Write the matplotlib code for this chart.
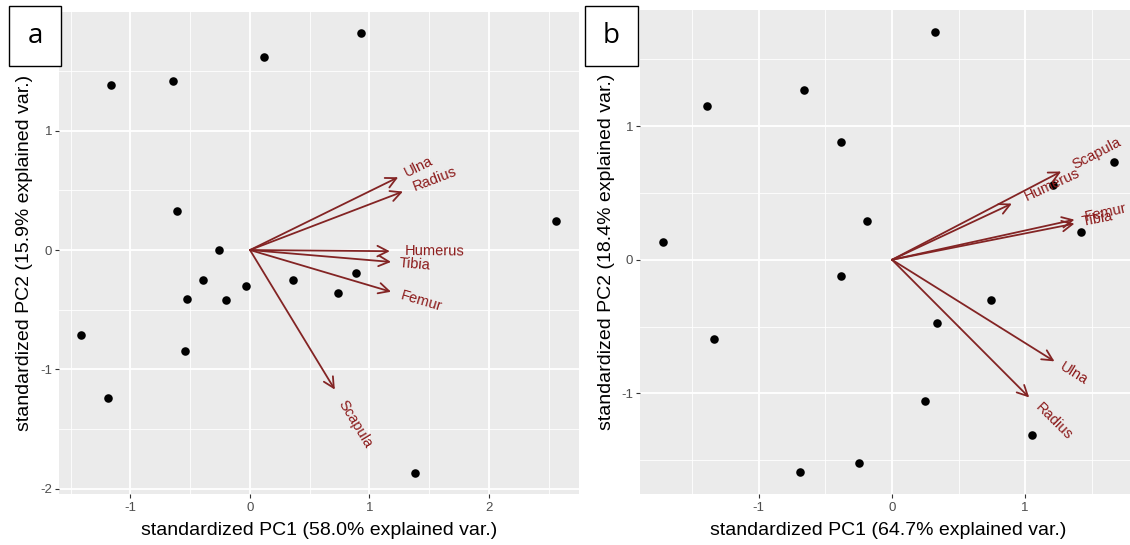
import numpy as np
import matplotlib
matplotlib.use("Agg")
import matplotlib.pyplot as plt
from matplotlib.ticker import MultipleLocator, FormatStrFormatter
from matplotlib.patches import Rectangle

plt.rcParams['font.family'] = ['Liberation Sans', 'DejaVu Sans']
plt.rcParams['axes.unicode_minus'] = False

# ---------------- data ----------------
# Panel a
a_pc1 = [0.93, 0.12, -1.16, -0.64, -0.61, 2.56, -0.26, -0.39, -0.03, 0.36,
         0.89, 0.74, -0.53, -0.20, -1.41, -0.54, -1.19, 1.38]
a_pc2 = [1.82, 1.62, 1.38, 1.42, 0.33, 0.24, 0.00, -0.25, -0.30, -0.25,
         -0.19, -0.36, -0.41, -0.42, -0.71, -0.85, -1.24, -1.87]
a_vars = ['Ulna', 'Radius', 'Humerus', 'Tibia', 'Femur', 'Scapula']
a_load1 = [1.24, 1.28, 1.17, 1.18, 1.18, 0.71]
a_load2 = [0.61, 0.49, -0.01, -0.10, -0.35, -1.17]
a_xlabel = 'standardized PC1 (58.0% explained var.)'
a_ylabel = 'standardized PC2 (15.9% explained var.)'

# Panel b
b_pc1 = [0.32, -0.66, -1.39, -0.38, -0.19, -1.72, 1.67, 1.21, 1.42, -0.38,
         0.74, 0.34, -1.34, 0.25, 1.05, -0.25, -0.69]
b_pc2 = [1.70, 1.27, 1.15, 0.88, 0.29, 0.135, 0.73, 0.56, 0.21, -0.12,
         -0.30, -0.47, -0.59, -1.06, -1.31, -1.52, -1.59]
b_vars = ['Scapula', 'Humerus', 'Femur', 'Tibia', 'Ulna', 'Radius']
b_load1 = [1.27, 0.90, 1.37, 1.37, 1.22, 1.03]
b_load2 = [0.66, 0.42, 0.30, 0.27, -0.76, -1.03]
b_xlabel = 'standardized PC1 (64.7% explained var.)'
b_ylabel = 'standardized PC2 (18.4% explained var.)'

panel_letters = ['a', 'b']

# ---------------- style ----------------
W, H = 1130, 545
DPI = 100
PANEL_BG = '#EBEBEB'
ARROW_C = '#832424'
TEXT_C = '#8B1A1A'
TICK_C = '#4D4D4D'
LABEL_FS = 10.5

fig = plt.figure(figsize=(W / DPI, H / DPI), dpi=DPI)
fig.patch.set_facecolor('white')


def px_axes(l, t, r, b):
    return fig.add_axes([l / W, 1 - b / H, (r - l) / W, (b - t) / H])


def style_axes(ax, xlim, ylim):
    ax.set_facecolor(PANEL_BG)
    ax.set_xlim(*xlim)
    ax.set_ylim(*ylim)
    for s in ax.spines.values():
        s.set_visible(False)
    ax.xaxis.set_major_locator(MultipleLocator(1))
    ax.yaxis.set_major_locator(MultipleLocator(1))
    ax.xaxis.set_minor_locator(MultipleLocator(0.5))
    ax.yaxis.set_minor_locator(MultipleLocator(0.5))
    ax.xaxis.set_major_formatter(FormatStrFormatter('%g'))
    ax.yaxis.set_major_formatter(FormatStrFormatter('%g'))
    ax.grid(which='major', color='white', lw=1.3, zorder=0)
    ax.grid(which='minor', color='white', lw=0.6, zorder=0)
    ax.set_axisbelow(True)
    ax.tick_params(which='major', length=3.2, width=0.8, color='#333333',
                   labelsize=9.5, labelcolor=TICK_C)
    ax.tick_params(axis='x', which='major', pad=2.5)
    ax.tick_params(axis='y', which='major', pad=1.8)
    ax.tick_params(which='minor', length=0)


def draw_panel(ax, pc1, pc2, names, l1, l2, xlabel, ylabel, xlab_pos, ylab_pos):
    ax.scatter(pc1, pc2, s=38, color='black', zorder=3, linewidths=0)
    renderer = fig.canvas.get_renderer()
    for name, x, y in zip(names, l1, l2):
        ax.annotate('', xy=(x, y), xytext=(0, 0),
                    arrowprops=dict(arrowstyle='->,head_length=0.75,head_width=0.38',
                                    color=ARROW_C, lw=1.3, shrinkA=0, shrinkB=0),
                    zorder=4)
        ang = np.degrees(np.arctan(y / x))
        tmp = ax.text(0, 0, name, fontsize=LABEL_FS)
        wpt = tmp.get_window_extent(renderer).width * 72 / DPI
        tmp.remove()
        d = 0.25 * wpt
        ax.annotate(name, xy=(x, y), xytext=(d * np.cos(np.radians(ang)),
                                              d * np.sin(np.radians(ang))),
                    textcoords='offset points', rotation=ang,
                    rotation_mode='anchor', ha='left', va='center',
                    fontsize=LABEL_FS, color=TEXT_C, zorder=5)
    ax.set_xlabel(xlabel, fontsize=14, color='black', va='center')
    ax.set_ylabel(ylabel, fontsize=14, color='black', va='center')
    ax.xaxis.set_label_coords(*xlab_pos)
    ax.yaxis.set_label_coords(*ylab_pos)


# Panel a
ax1 = px_axes(59, 12, 579, 494)
style_axes(ax1, (-1.598, 2.753), (-2.045, 1.995))
draw_panel(ax1, a_pc1, a_pc2, a_vars, a_load1, a_load2, a_xlabel, a_ylabel,
           (0.5, -0.076), (-0.0673, 0.5))

# Panel b
ax2 = px_axes(640, 10, 1130, 494)
style_axes(ax2, (-1.892, 1.787), (-1.752, 1.868))
draw_panel(ax2, b_pc1, b_pc2, b_vars, b_load1, b_load2, b_xlabel, b_ylabel,
           (0.507, -0.076), (-0.068, 0.5))

# Panel letter boxes
for letter, (l, t, r, b) in zip(panel_letters, [(9, 6, 61, 66), (585, 6, 638, 66)]):
    rect = Rectangle((l / W, 1 - b / H), (r - l) / W, (b - t) / H,
                     transform=fig.transFigure, facecolor='white',
                     edgecolor='black', lw=1.0, zorder=10)
    fig.patches.append(rect)
    fig.text((l + r) / 2 / W, 1 - (t + b) / 2 / H, letter, fontsize=20,
             family=['Open Sans', 'DejaVu Sans'], ha='center', va='center',
             zorder=11)

fig.savefig('out.png', dpi=DPI, facecolor='white')
